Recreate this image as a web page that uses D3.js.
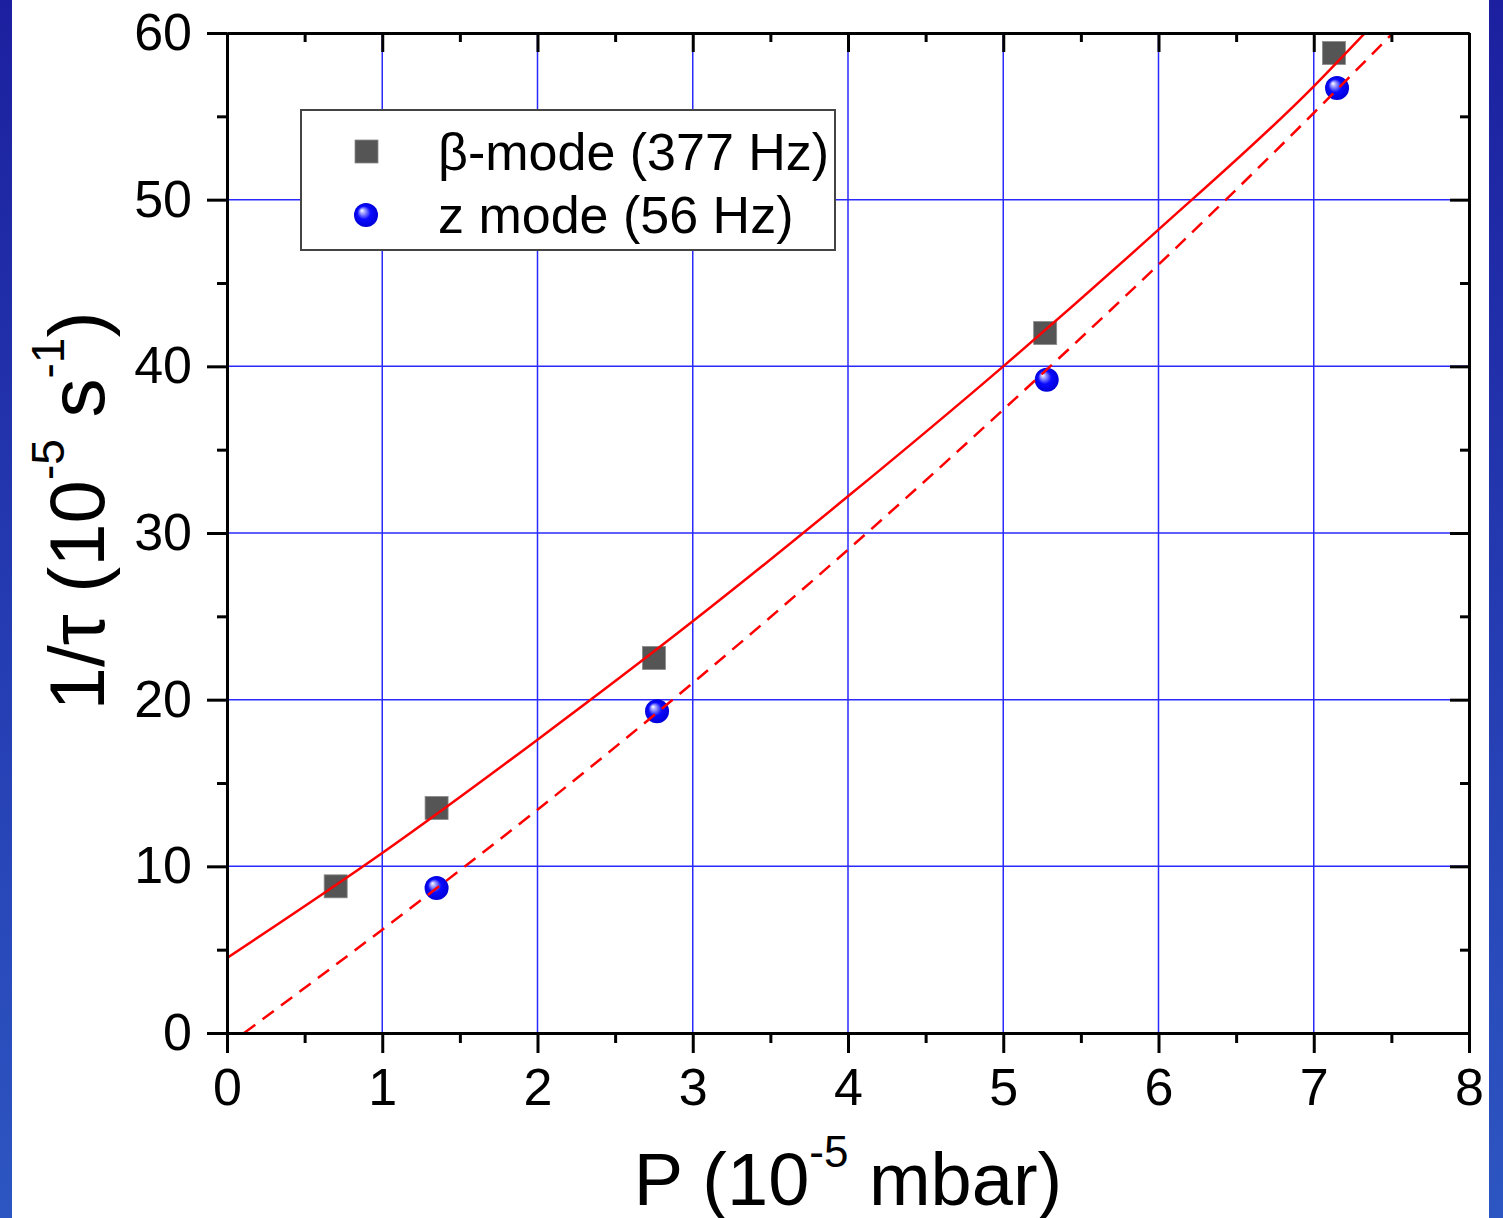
<!DOCTYPE html>
<html>
<head>
<meta charset="utf-8">
<title>1/tau vs P</title>
<script src="https://d3js.org/d3.v7.min.js"></script>
<style>
  html, body { margin: 0; padding: 0; overflow: hidden; }
  text { font-family: "Liberation Sans", Arial, sans-serif; fill: #000; }
  .axis .domain { stroke: #000; stroke-width: 3; }
  .axis line { stroke: #000; stroke-width: 3; }
  .grid line { stroke: #2a2aff; stroke-width: 1.5; }
</style>
</head>
<body>
<div id="chart"></div>
<script>
// data
const xTicks = [0, 1, 2, 3, 4, 5, 6, 7, 8];
const yTicks = [0, 10, 20, 30, 40, 50, 60];

// beta-mode (377 Hz), squares
const betaP = [0.70, 1.35, 2.75, 5.27, 7.13];
const betaRate = [8.8, 13.5, 22.5, 42.0, 58.8];

// z mode (56 Hz), spheres
const zP = [1.35, 2.77, 5.28, 7.15];
const zRate = [8.7, 19.3, 39.2, 56.7];

// fitted curves (solid = beta, dashed = z)
const fitBetaP = [0, 1, 2, 3, 4, 5, 6, 7, 7.33];
const fitBetaRate = [4.5, 10.8, 17.6, 24.7, 32.2, 40.0, 48.2, 56.8, 60];
const fitZP = [0.11, 1, 2, 3, 4, 5, 6, 7, 7.51];
const fitZRate = [0, 6.2, 13.4, 21.0, 29.0, 37.4, 46.1, 55.2, 60];

const legendLabels = ["β-mode (377 Hz)", "z mode (56 Hz)"];

// layout
const W = 1503, H = 1218;
const margin = {top: 33, right: 34, bottom: 185, left: 227};
const width = W - margin.left - margin.right;   // 1242
const height = H - margin.top - margin.bottom;  // 1000

const svg = d3.select("#chart").append("svg")
    .attr("width", W)
    .attr("height", H);

const defs = svg.append("defs");

// blue frame gradient
const bgGrad = defs.append("linearGradient")
    .attr("id", "bg").attr("x1", 0).attr("y1", 0).attr("x2", 0).attr("y2", 1);
bgGrad.append("stop").attr("offset", "0%").attr("stop-color", "#1c20a0");
bgGrad.append("stop").attr("offset", "100%").attr("stop-color", "#2d56c2");

// sphere gradient
const ball = defs.append("radialGradient")
    .attr("id", "ball").attr("cx", "50%").attr("cy", "50%").attr("r", "50%")
    .attr("fx", "32%").attr("fy", "30%");
ball.append("stop").attr("offset", "0%").attr("stop-color", "#ffffff");
ball.append("stop").attr("offset", "22%").attr("stop-color", "#9a9aff");
ball.append("stop").attr("offset", "55%").attr("stop-color", "#0a0aff");
ball.append("stop").attr("offset", "100%").attr("stop-color", "#0000d8");

defs.append("clipPath").attr("id", "plotClip")
    .append("rect").attr("width", width).attr("height", height);

svg.append("rect").attr("width", W).attr("height", H).attr("fill", "url(#bg)");
svg.append("rect").attr("x", 12).attr("width", 1477).attr("height", H).attr("fill", "#fff");

const g = svg.append("g")
    .attr("transform", `translate(${margin.left},${margin.top})`);

const x = d3.scaleLinear().domain([0, 8]).range([0, width]);
const y = d3.scaleLinear().domain([0, 60]).range([height, 0]);

// grid
const grid = g.append("g").attr("class", "grid");
grid.selectAll(".gx").data(xTicks.slice(1, -1)).enter().append("line")
    .attr("x1", d => x(d)).attr("x2", d => x(d))
    .attr("y1", 0).attr("y2", height);
grid.selectAll(".gy").data(yTicks.slice(1, -1)).enter().append("line")
    .attr("y1", d => y(d)).attr("y2", d => y(d))
    .attr("x1", 0).attr("x2", width);

// markers
const beta = betaP.map((p, i) => ({p: p, r: betaRate[i]}));
const zm = zP.map((p, i) => ({p: p, r: zRate[i]}));

g.selectAll(".sq").data(beta).enter().append("rect")
    .attr("x", d => x(d.p) - 11.5)
    .attr("y", d => y(d.r) - 11.5)
    .attr("width", 23).attr("height", 23)
    .attr("fill", "#555555")
    .attr("stroke", "#8a8a8a").attr("stroke-width", 0.8);

g.selectAll(".ball").data(zm).enter().append("circle")
    .attr("cx", d => x(d.p))
    .attr("cy", d => y(d.r))
    .attr("r", 12)
    .attr("fill", "url(#ball)");

// fit curves
const line = d3.line()
    .x(d => x(d[0]))
    .y(d => y(d[1]))
    .curve(d3.curveMonotoneX);

const fits = g.append("g").attr("clip-path", "url(#plotClip)");
fits.append("path")
    .datum(fitBetaP.map((p, i) => [p, fitBetaRate[i]]))
    .attr("d", line)
    .attr("fill", "none").attr("stroke", "#ff0000").attr("stroke-width", 2.5);
fits.append("path")
    .datum(fitZP.map((p, i) => [p, fitZRate[i]]))
    .attr("d", line)
    .attr("fill", "none").attr("stroke", "#ff0000").attr("stroke-width", 2.5)
    .attr("stroke-dasharray", "14,9");

// axes
const minorX = d3.range(0.5, 8, 1);
const minorY = d3.range(5, 60, 10);

function styleText(sel) {
    sel.selectAll("text").style("font-size", "52px");
}

g.append("g").attr("class", "axis")
    .attr("transform", `translate(0,${height})`)
    .call(d3.axisBottom(x).tickValues(xTicks).tickSize(20).tickPadding(15).tickSizeOuter(0))
    .call(styleText);
g.append("g").attr("class", "axis")
    .attr("transform", `translate(0,${height})`)
    .call(d3.axisBottom(x).tickValues(minorX).tickSize(10).tickFormat("").tickSizeOuter(0));

g.append("g").attr("class", "axis")
    .call(d3.axisLeft(y).tickValues(yTicks).tickSize(20).tickPadding(15).tickSizeOuter(0))
    .call(styleText);
g.append("g").attr("class", "axis")
    .call(d3.axisLeft(y).tickValues(minorY).tickSize(10).tickFormat("").tickSizeOuter(0));

g.append("g").attr("class", "axis")
    .call(d3.axisTop(x).tickValues(xTicks).tickSize(-19).tickFormat("").tickSizeOuter(0));
g.append("g").attr("class", "axis")
    .call(d3.axisTop(x).tickValues(minorX).tickSize(-9).tickFormat("").tickSizeOuter(0));

g.append("g").attr("class", "axis")
    .attr("transform", `translate(${width},0)`)
    .call(d3.axisRight(y).tickValues(yTicks).tickSize(-19).tickFormat("").tickSizeOuter(0));
g.append("g").attr("class", "axis")
    .attr("transform", `translate(${width},0)`)
    .call(d3.axisRight(y).tickValues(minorY).tickSize(-9).tickFormat("").tickSizeOuter(0));

// axis titles
const xt = svg.append("text")
    .attr("x", margin.left + width / 2)
    .attr("y", 1205)
    .attr("text-anchor", "middle")
    .style("font-size", "74px");
xt.append("tspan").text("P (10");
xt.append("tspan").attr("dy", -38).style("font-size", "44px").text("-5");
xt.append("tspan").attr("dy", 38).text(" mbar)");

const yt = svg.append("text")
    .attr("transform", "translate(104,511) rotate(-90)")
    .attr("text-anchor", "middle")
    .style("font-size", "78px");
yt.append("tspan").text("1/τ (10");
yt.append("tspan").attr("dy", -40).style("font-size", "46px").text("-5");
yt.append("tspan").attr("dy", 40).text(" s");
yt.append("tspan").attr("dy", -40).style("font-size", "46px").text("-1");
yt.append("tspan").attr("dy", 40).text(")");

// legend
const legend = svg.append("g").attr("transform", "translate(301,110)");
legend.append("rect")
    .attr("width", 534).attr("height", 140)
    .attr("fill", "#fff").attr("stroke", "#444").attr("stroke-width", 2);

legend.append("rect")
    .attr("x", 54).attr("y", 30).attr("width", 23).attr("height", 23)
    .attr("fill", "#555555").attr("stroke", "#8a8a8a").attr("stroke-width", 0.8);
legend.append("circle")
    .attr("cx", 65).attr("cy", 105).attr("r", 12)
    .attr("fill", "url(#ball)");

legend.selectAll(".lt").data(legendLabels).enter().append("text")
    .attr("x", 137)
    .attr("y", (d, i) => 60 + i * 63)
    .style("font-size", "52px")
    .text(d => d);
</script>
</body>
</html>
